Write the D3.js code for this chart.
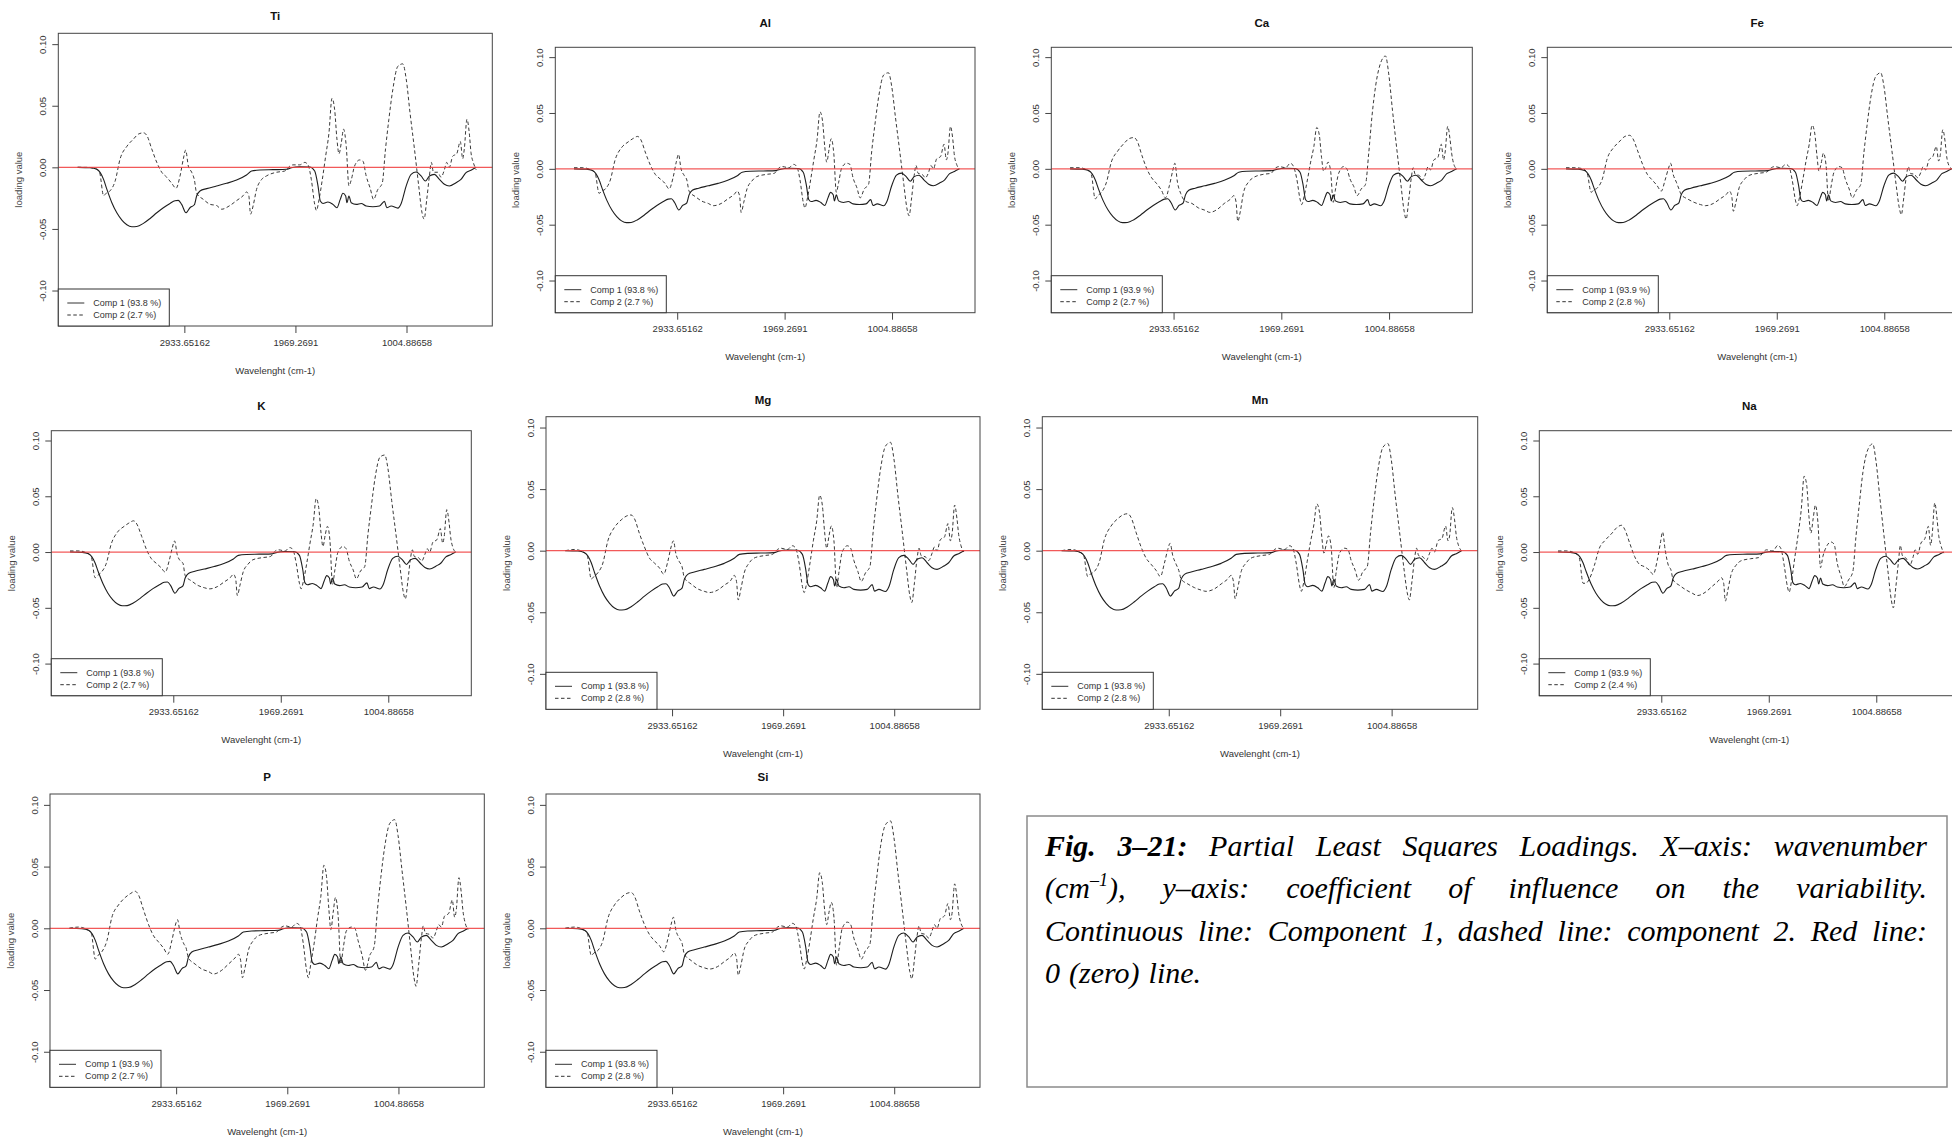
<!DOCTYPE html>
<html>
<head>
<meta charset="utf-8">
<script src="https://cdn.jsdelivr.net/npm/d3@7"></script>
<style>
  html, body { margin: 0; padding: 0; background: #fff; }
  svg { display: block; }
</style>
</head>
<body>
<svg id="fig" width="1952" height="1139"></svg>
<script>
// ---- PLS loadings: one panel per element ----
const elements = ["Ti", "Al", "Ca", "Fe", "K", "Mg", "Mn", "Na", "P", "Si"];
const comp1Pct = [93.8, 93.8, 93.9, 93.9, 93.8, 93.8, 93.8, 93.9, 93.9, 93.8];
const comp2Pct = [2.7, 2.7, 2.7, 2.8, 2.7, 2.8, 2.8, 2.4, 2.7, 2.8];

const xTickValues = [2933.65162, 1969.2691, 1004.88658];
const xTickLabels = ["2933.65162", "1969.2691", "1004.88658"];
const yTickValues = [-0.10, -0.05, 0.00, 0.05, 0.10];

// Component 1 loadings (same shape for every element)
const wavenumberC1 = [3860,3751,3693,3664,3635,3606,3563,3520,3476,3433,3390,3347,3289,3231,3173,3116,3058,3015,2986,2957,
  2919,2885,2847,2827,2798,2740,2654,2567,2480,2394,2350,2278,2163,2047,2004,1932,1845,1802,1773,1753,
  1730,1687,1644,1609,1580,1557,1533,1522,1505,1485,1441,1398,1355,1297,1239,1196,1176,1138,1080,1051,
  1008,965,921,878,841,806,763,719,676,633,575,532,488,445,400];
const loadingC1 = [0.0000,-0.0003,-0.0016,-0.0043,-0.0098,-0.0179,-0.0287,-0.0369,-0.0428,-0.0466,
  -0.0482,-0.0480,-0.0455,-0.0415,-0.0369,-0.0328,-0.0293,-0.0271,-0.0268,-0.0301,
  -0.0369,-0.0328,-0.0304,-0.0233,-0.0192,-0.0173,-0.0152,-0.0130,-0.0103,-0.0062,
  -0.0030,-0.0022,-0.0019,-0.0016,-0.0003,0.0005,0.0003,-0.0030,-0.0152,-0.0274,
  -0.0293,-0.0282,-0.0301,-0.0328,-0.0260,-0.0211,-0.0233,-0.0287,-0.0233,-0.0287,
  -0.0301,-0.0293,-0.0314,-0.0320,-0.0314,-0.0276,-0.0328,-0.0314,-0.0331,-0.0293,
  -0.0152,-0.0057,-0.0038,-0.0070,-0.0111,-0.0070,-0.0057,-0.0098,-0.0138,-0.0152,
  -0.0125,-0.0098,-0.0043,-0.0024,0.0000];

// Component 2 loadings, per element
const wavenumberC2 = [3860,3780,3707,3670,3635,3612,3578,3534,3491,3433,3375,3332,3289,3260,3217,3173,3130,3087,3043,3006,
  2971,2942,2922,2899,2870,2847,2827,2769,2711,2654,2610,2538,2480,2423,2394,2374,2359,2336,2307,2264,
  2221,2134,2062,2018,1990,1932,1888,1860,1831,1802,1787,1764,1736,1707,1678,1652,1629,1609,1591,1571,
  1551,1528,1505,1484,1456,1412,1383,1355,1320,1291,1254,1216,1187,1158,1124,1080,1037,1008,974,936,
  899,870,852,829,806,789,771,734,705,676,656,633,604,569,538,517,503,480,460,445,425,400];

const loadingC2Ti = [0.000,0.000,-0.001,-0.004,-0.023,-0.021,-0.019,-0.011,0.007,0.017,
  0.023,0.027,0.028,0.026,0.015,0.004,-0.004,-0.008,-0.013,-0.017,
  -0.007,0.007,0.014,0.001,-0.004,-0.010,-0.021,-0.026,-0.030,-0.031,
  -0.034,-0.031,-0.027,-0.023,-0.020,-0.023,-0.038,-0.031,-0.018,-0.010,
  -0.007,-0.004,-0.003,0.001,0.002,0.002,0.004,0.002,-0.010,-0.030,
  -0.035,-0.026,-0.010,0.009,0.028,0.056,0.047,0.023,0.011,0.020,
  0.031,0.017,-0.015,-0.010,0.001,0.006,0.005,-0.007,-0.017,-0.026,
  -0.018,-0.013,0.015,0.039,0.063,0.082,0.084,0.072,0.044,0.015,
  -0.015,-0.037,-0.042,-0.026,-0.007,0.004,-0.004,-0.004,-0.008,-0.002,
  0.004,0.000,0.009,0.011,0.021,0.007,0.015,0.039,0.028,0.012,
  0.004,-0.002];
const loadingC2Al = [0.001,0.001,-0.001,-0.004,-0.022,-0.020,-0.018,-0.010,0.008,0.019,
  0.024,0.027,0.029,0.026,0.014,0.003,-0.005,-0.009,-0.013,-0.018,
  -0.008,0.006,0.013,0.000,-0.006,-0.010,-0.020,-0.025,-0.029,-0.031,
  -0.033,-0.031,-0.027,-0.023,-0.020,-0.024,-0.039,-0.030,-0.018,-0.011,
  -0.007,-0.005,-0.004,0.001,0.002,0.001,0.004,0.002,-0.010,-0.030,
  -0.035,-0.026,-0.010,0.008,0.026,0.051,0.043,0.020,0.006,0.017,
  0.027,0.014,-0.021,-0.012,0.001,0.005,0.004,-0.008,-0.017,-0.026,
  -0.018,-0.014,0.016,0.040,0.065,0.084,0.086,0.074,0.046,0.016,
  -0.014,-0.036,-0.042,-0.026,-0.006,0.003,-0.004,-0.005,-0.008,-0.003,
  0.003,0.000,0.009,0.011,0.022,0.008,0.014,0.038,0.027,0.012,
  0.004,0.000];
const loadingC2Ca = [0.001,0.001,-0.001,-0.005,-0.027,-0.024,-0.021,-0.012,0.006,0.016,
  0.023,0.027,0.028,0.025,0.012,0.000,-0.008,-0.013,-0.019,-0.026,
  -0.015,-0.002,0.005,-0.012,-0.022,-0.027,-0.029,-0.031,-0.035,-0.037,
  -0.039,-0.036,-0.031,-0.027,-0.024,-0.030,-0.047,-0.038,-0.021,-0.012,
  -0.008,-0.005,-0.004,0.001,0.002,0.001,0.005,0.002,-0.009,-0.027,
  -0.032,-0.024,-0.010,0.006,0.020,0.037,0.030,0.010,-0.002,0.001,
  0.006,-0.002,-0.030,-0.018,-0.004,0.002,0.000,-0.009,-0.016,-0.024,
  -0.018,-0.014,0.014,0.047,0.075,0.095,0.101,0.085,0.052,0.018,
  -0.014,-0.038,-0.045,-0.028,-0.008,0.001,-0.005,-0.006,-0.010,-0.004,
  0.002,-0.001,0.008,0.010,0.022,0.008,0.015,0.038,0.027,0.014,
  0.004,0.000];
const loadingC2Fe = [0.001,0.001,0.000,-0.004,-0.021,-0.019,-0.017,-0.009,0.009,0.019,
  0.025,0.029,0.030,0.027,0.016,0.004,-0.005,-0.010,-0.015,-0.020,
  -0.010,0.000,0.005,-0.005,-0.012,-0.018,-0.023,-0.027,-0.030,-0.032,
  -0.033,-0.031,-0.027,-0.023,-0.020,-0.024,-0.038,-0.030,-0.017,-0.010,
  -0.006,-0.004,-0.003,0.001,0.002,0.001,0.004,0.002,-0.010,-0.028,
  -0.033,-0.025,-0.010,0.007,0.022,0.039,0.032,0.012,-0.002,0.005,
  0.014,0.004,-0.029,-0.017,-0.003,0.002,0.001,-0.009,-0.018,-0.026,
  -0.019,-0.014,0.015,0.040,0.065,0.083,0.086,0.074,0.046,0.016,
  -0.014,-0.035,-0.041,-0.025,-0.006,0.002,-0.004,-0.005,-0.008,-0.003,
  0.002,-0.001,0.008,0.011,0.020,0.007,0.012,0.035,0.025,0.011,
  0.003,0.000];
const loadingC2K = [0.001,0.001,-0.001,-0.004,-0.023,-0.021,-0.018,-0.010,0.007,0.018,
  0.023,0.026,0.028,0.025,0.014,0.002,-0.006,-0.010,-0.014,-0.018,
  -0.008,0.004,0.010,-0.002,-0.008,-0.010,-0.021,-0.026,-0.030,-0.032,
  -0.033,-0.031,-0.027,-0.023,-0.020,-0.024,-0.039,-0.030,-0.018,-0.011,
  -0.007,-0.005,-0.004,0.001,0.002,0.001,0.004,0.002,-0.010,-0.028,
  -0.033,-0.025,-0.010,0.008,0.025,0.048,0.040,0.018,0.005,0.015,
  0.023,0.010,-0.029,-0.016,0.000,0.005,0.003,-0.008,-0.016,-0.024,
  -0.017,-0.013,0.016,0.040,0.066,0.085,0.087,0.075,0.046,0.016,
  -0.014,-0.036,-0.042,-0.026,-0.006,0.002,-0.004,-0.005,-0.008,-0.002,
  0.003,0.000,0.009,0.011,0.021,0.008,0.014,0.038,0.027,0.013,
  0.004,0.000];
const loadingC2Mg = [0.000,0.001,-0.001,-0.004,-0.023,-0.021,-0.018,-0.010,0.008,0.019,
  0.025,0.028,0.029,0.026,0.014,0.003,-0.006,-0.010,-0.014,-0.019,
  -0.009,0.003,0.008,-0.003,-0.009,-0.013,-0.022,-0.027,-0.031,-0.033,
  -0.034,-0.032,-0.028,-0.024,-0.020,-0.025,-0.040,-0.031,-0.018,-0.010,
  -0.006,-0.004,-0.003,0.001,0.002,0.001,0.004,0.002,-0.010,-0.029,
  -0.034,-0.026,-0.010,0.008,0.024,0.045,0.037,0.015,0.002,0.012,
  0.020,0.008,-0.030,-0.017,-0.001,0.004,0.002,-0.008,-0.017,-0.025,
  -0.018,-0.013,0.016,0.041,0.066,0.085,0.088,0.075,0.046,0.016,
  -0.014,-0.036,-0.042,-0.026,-0.006,0.002,-0.004,-0.005,-0.008,-0.002,
  0.003,0.000,0.009,0.011,0.022,0.008,0.013,0.037,0.026,0.013,
  0.004,-0.001];
const loadingC2Mn = [0.000,0.001,-0.001,-0.004,-0.021,-0.019,-0.017,-0.009,0.009,0.020,
  0.026,0.029,0.030,0.027,0.015,0.003,-0.006,-0.011,-0.016,-0.021,
  -0.010,0.001,0.006,-0.004,-0.011,-0.016,-0.023,-0.027,-0.030,-0.032,
  -0.033,-0.031,-0.027,-0.023,-0.020,-0.025,-0.039,-0.030,-0.017,-0.010,
  -0.006,-0.004,-0.003,0.001,0.002,0.001,0.004,0.002,-0.010,-0.028,
  -0.033,-0.025,-0.009,0.007,0.021,0.038,0.031,0.011,-0.002,0.005,
  0.012,0.003,-0.030,-0.017,-0.002,0.002,0.001,-0.008,-0.016,-0.024,
  -0.017,-0.013,0.015,0.040,0.065,0.084,0.087,0.074,0.045,0.015,
  -0.014,-0.034,-0.040,-0.025,-0.006,0.002,-0.004,-0.005,-0.008,-0.002,
  0.002,-0.001,0.008,0.010,0.020,0.008,0.012,0.035,0.025,0.012,
  0.004,0.000];
const loadingC2Na = [0.001,0.001,-0.001,-0.005,-0.028,-0.028,-0.024,-0.012,0.003,0.011,
  0.017,0.022,0.024,0.020,0.008,-0.004,-0.011,-0.013,-0.016,-0.020,
  -0.008,0.008,0.018,0.002,-0.012,-0.016,-0.025,-0.030,-0.034,-0.037,
  -0.039,-0.036,-0.031,-0.026,-0.023,-0.028,-0.044,-0.034,-0.020,-0.012,
  -0.008,-0.006,-0.005,0.000,0.002,0.001,0.006,0.003,-0.012,-0.031,
  -0.036,-0.025,-0.005,0.015,0.038,0.068,0.060,0.032,0.017,0.030,
  0.042,0.026,-0.014,-0.004,0.004,0.009,0.007,-0.010,-0.022,-0.031,
  -0.025,-0.018,0.014,0.042,0.072,0.092,0.097,0.082,0.050,0.015,
  -0.018,-0.043,-0.050,-0.031,-0.009,0.006,-0.003,-0.006,-0.012,-0.005,
  0.002,-0.002,0.008,0.012,0.023,0.006,0.016,0.044,0.030,0.015,
  0.006,-0.001];
const loadingC2P = [0.000,0.001,-0.001,-0.004,-0.025,-0.022,-0.019,-0.010,0.009,0.019,
  0.025,0.028,0.030,0.027,0.015,0.003,-0.006,-0.011,-0.016,-0.021,
  -0.010,0.002,0.007,-0.004,-0.012,-0.016,-0.024,-0.029,-0.033,-0.035,
  -0.037,-0.034,-0.029,-0.024,-0.021,-0.026,-0.040,-0.032,-0.018,-0.010,
  -0.006,-0.004,-0.003,0.001,0.002,0.001,0.004,0.002,-0.012,-0.034,
  -0.040,-0.028,-0.012,0.008,0.026,0.051,0.042,0.016,-0.001,0.013,
  0.025,0.010,-0.029,-0.016,-0.002,0.001,0.000,-0.010,-0.022,-0.034,
  -0.022,-0.015,0.015,0.041,0.066,0.085,0.088,0.075,0.047,0.016,
  -0.016,-0.040,-0.047,-0.029,-0.008,0.002,-0.004,-0.005,-0.008,-0.002,
  0.003,0.001,0.010,0.012,0.023,0.009,0.015,0.041,0.029,0.014,
  0.004,-0.001];
const loadingC2Si = [0.000,0.001,-0.001,-0.004,-0.022,-0.020,-0.018,-0.010,0.008,0.019,
  0.025,0.028,0.029,0.026,0.014,0.003,-0.005,-0.010,-0.014,-0.019,
  -0.009,0.003,0.009,-0.002,-0.008,-0.012,-0.021,-0.026,-0.030,-0.032,
  -0.033,-0.031,-0.027,-0.023,-0.020,-0.024,-0.038,-0.030,-0.017,-0.010,
  -0.006,-0.004,-0.003,0.001,0.002,0.001,0.004,0.002,-0.010,-0.028,
  -0.033,-0.025,-0.010,0.008,0.024,0.045,0.037,0.015,0.003,0.013,
  0.021,0.009,-0.030,-0.017,0.000,0.005,0.003,-0.008,-0.017,-0.025,
  -0.018,-0.013,0.016,0.040,0.066,0.084,0.087,0.074,0.046,0.016,
  -0.014,-0.035,-0.041,-0.025,-0.006,0.002,-0.004,-0.005,-0.008,-0.002,
  0.003,0.000,0.008,0.010,0.020,0.007,0.012,0.036,0.025,0.012,
  0.004,0.000];

const comp2ByElement = {
  Ti: loadingC2Ti, Al: loadingC2Al, Ca: loadingC2Ca, Fe: loadingC2Fe, K: loadingC2K,
  Mg: loadingC2Mg, Mn: loadingC2Mn, Na: loadingC2Na, P: loadingC2P, Si: loadingC2Si
};

// ---- layout of the plot boxes on the page ----
const panelBoxes = [
  { x0: 58.3,   y0: 33.3,  x1: 492.3,  y1: 326.0,  ty: 16 },
  { x0: 555.3,  y0: 47.3,  x1: 975.0,  y1: 312.7,  ty: 23 },
  { x0: 1051.3, y0: 47.3,  x1: 1472.3, y1: 312.7,  ty: 23 },
  { x0: 1547.3, y0: 47.3,  x1: 1967.3, y1: 312.7,  ty: 23 },
  { x0: 51.3,   y0: 430.7, x1: 471.3,  y1: 695.7,  ty: 405.7 },
  { x0: 546.0,  y0: 416.7, x1: 980.0,  y1: 709.3,  ty: 400 },
  { x0: 1042.3, y0: 416.7, x1: 1477.7, y1: 709.3,  ty: 400 },
  { x0: 1539.3, y0: 430.7, x1: 1959.3, y1: 695.7,  ty: 405.7 },
  { x0: 50.0,   y0: 794.0, x1: 484.3,  y1: 1087.3, ty: 777 },
  { x0: 546.0,  y0: 794.0, x1: 980.0,  y1: 1087.3, ty: 777 }
];

const xDomain = [4028, 260];          // wavenumber, high to low
const yDomain = [-0.1288, 0.1088];    // ylim(-0.12, 0.10) plus 4% margin

const sans = "'Liberation Sans', Arial, Helvetica, sans-serif";
const svg = d3.select("#fig");
svg.append("rect").attr("width", 1952).attr("height", 1139).attr("fill", "#fff");

elements.forEach((el, i) => {
  const p = panelBoxes[i];
  const x = d3.scaleLinear().domain(xDomain).range([p.x0, p.x1]);
  const y = d3.scaleLinear().domain(yDomain).range([p.y1, p.y0]);
  const g = svg.append("g").attr("class", "panel");

  const line = d3.line()
    .x(d => x(d[0]))
    .y(d => y(d[1]))
    .curve(d3.curveMonotoneX);

  // component 2 (dashed)
  g.append("path")
    .datum(d3.zip(wavenumberC2, comp2ByElement[el]))
    .attr("d", line)
    .attr("fill", "none")
    .attr("stroke", "#3a3a3a")
    .attr("stroke-width", 1)
    .attr("stroke-dasharray", "3.5,2.5");

  // component 1 (solid)
  g.append("path")
    .datum(d3.zip(wavenumberC1, loadingC1))
    .attr("d", line)
    .attr("fill", "none")
    .attr("stroke", "#1e1e1e")
    .attr("stroke-width", 1.1);

  // zero line
  g.append("line")
    .attr("x1", p.x0).attr("x2", p.x1)
    .attr("y1", y(0)).attr("y2", y(0))
    .attr("stroke", "#f03c3c")
    .attr("stroke-opacity", 0.85)
    .attr("stroke-width", 1.3);

  // y axis with rotated labels
  const ya = g.append("g")
    .attr("transform", `translate(${p.x0},0)`)
    .call(d3.axisLeft(y).tickValues(yTickValues).tickSize(6).tickFormat(d => d.toFixed(2)));
  ya.select(".domain").remove();
  ya.selectAll(".tick line").attr("stroke", "#444");
  ya.selectAll(".tick text")
    .attr("transform", "rotate(-90)")
    .attr("x", 0).attr("y", -12).attr("dy", 0)
    .style("text-anchor", "middle")
    .attr("fill", "#333")
    .style("font-family", sans)
    .style("font-size", "9.5px");

  // x axis
  const xa = g.append("g")
    .attr("transform", `translate(0,${p.y1})`)
    .call(d3.axisBottom(x).tickValues(xTickValues).tickSize(7).tickPadding(6)
      .tickFormat(d => xTickLabels[xTickValues.indexOf(d)]));
  xa.select(".domain").remove();
  xa.selectAll(".tick line").attr("stroke", "#444");
  xa.selectAll(".tick text")
    .attr("fill", "#333")
    .style("font-family", sans)
    .style("font-size", "9.5px");

  // plot frame
  g.append("rect")
    .attr("x", p.x0).attr("y", p.y0)
    .attr("width", p.x1 - p.x0).attr("height", p.y1 - p.y0)
    .attr("fill", "none").attr("stroke", "#444").attr("stroke-width", 1);

  // title and axis titles
  g.append("text")
    .attr("x", (p.x0 + p.x1) / 2).attr("y", p.ty)
    .attr("text-anchor", "middle").attr("dominant-baseline", "central")
    .style("font-family", sans).style("font-size", "11.5px").style("font-weight", "bold")
    .attr("fill", "#111")
    .text(el);
  g.append("text")
    .attr("x", (p.x0 + p.x1) / 2).attr("y", p.y1 + 44)
    .attr("text-anchor", "middle").attr("dominant-baseline", "central")
    .style("font-family", sans).style("font-size", "9.5px")
    .attr("fill", "#333")
    .text("Wavelenght (cm-1)");
  g.append("text")
    .attr("transform", `translate(${p.x0 - 40},${(p.y0 + p.y1) / 2}) rotate(-90)`)
    .attr("text-anchor", "middle").attr("dominant-baseline", "central")
    .style("font-family", sans).style("font-size", "9.5px")
    .attr("fill", "#444")
    .text("loading value");

  // legend
  const lg = g.append("g").attr("transform", `translate(${p.x0},${p.y1 - 37})`);
  lg.append("rect").attr("width", 111).attr("height", 37)
    .attr("fill", "#fff").attr("stroke", "#333").attr("stroke-width", 1);
  const items = [
    { label: `Comp 1 (${comp1Pct[i].toFixed(1)} %)`, dash: null, dy: 14 },
    { label: `Comp 2 (${comp2Pct[i].toFixed(1)} %)`, dash: "3.5,2.5", dy: 26 }
  ];
  items.forEach(it => {
    lg.append("line").attr("x1", 9).attr("x2", 26).attr("y1", it.dy).attr("y2", it.dy)
      .attr("stroke", "#333").attr("stroke-width", 1)
      .attr("stroke-dasharray", it.dash);
    lg.append("text").attr("x", 35).attr("y", it.dy).attr("dominant-baseline", "central")
      .style("font-family", sans).style("font-size", "9px").attr("fill", "#333")
      .text(it.label);
  });
});

// ---- figure caption ----
const capBox = { x: 1027, y: 816, w: 920, h: 271 };
svg.append("rect")
  .attr("x", capBox.x).attr("y", capBox.y).attr("width", capBox.w).attr("height", capBox.h)
  .attr("fill", "none").attr("stroke", "#8a8a8a").attr("stroke-width", 1.5);

const B = "b", S = "sup";
const captionLines = [
  { justify: true, words: [[["Fig.", B]], [["3–21:", B]], "Partial", "Least", "Squares", "Loadings.", "X–axis:", "wavenumber"] },
  { justify: true, words: [[["(cm", ""], ["–1", S], ["),", ""]], "y–axis:", "coefficient", "of", "influence", "on", "the", "variability."] },
  { justify: true, words: ["Continuous", "line:", "Component", "1,", "dashed", "line:", "component", "2.", "Red", "line:"] },
  { justify: false, words: ["0", "(zero)", "line."] }
];
const capX0 = 1045, capX1 = 1927, capBase = 856, capLead = 42.3, capSize = 30;
const serif = "'Liberation Serif', 'Times New Roman', Times, serif";

captionLines.forEach((ln, li) => {
  const g = svg.append("g")
    .attr("transform", `translate(${capX0},${capBase + li * capLead})`);
  const nodes = ln.words.map(w => {
    const segs = typeof w === "string" ? [[w, ""]] : w;
    const t = g.append("text")
      .style("font-family", serif).style("font-style", "italic")
      .style("font-size", capSize + "px").attr("fill", "#000");
    let raised = false;
    segs.forEach(([txt, st]) => {
      const ts = t.append("tspan").text(txt);
      if (st === B) ts.style("font-weight", "bold");
      if (st === S) { ts.style("font-size", "18px").attr("dy", -12); raised = true; }
      else if (raised) { ts.attr("dy", 12); raised = false; }
    });
    return t;
  });
  const widths = nodes.map(t => t.node().getComputedTextLength());
  const total = d3.sum(widths);
  const avail = capX1 - capX0;
  const gap = ln.justify ? (avail - total) / (nodes.length - 1) : capSize * 0.3;
  let cx = 0;
  nodes.forEach((t, k) => { t.attr("x", cx); cx += widths[k] + gap; });
});
</script>
</body>
</html>
